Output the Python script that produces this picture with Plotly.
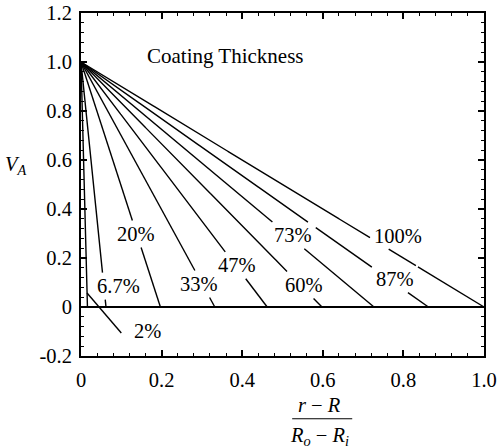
import numpy as np
import plotly.graph_objects as go

# ---- data ----
labels = ["2%", "6.7%", "20%", "33%", "47%", "60%", "73%", "87%", "100%"]
intercepts = [0.016, 0.062, 0.197, 0.332, 0.462, 0.598, 0.727, 0.862, 1.0]
label_x = [0.164, 0.093, 0.136, 0.293, 0.388, 0.553, 0.525, 0.779, 0.787]
label_y = [-0.097, 0.085, 0.298, 0.094, 0.170, 0.090, 0.292, 0.114, 0.291]
leader_x = [0.015, 0.100]
leader_y = [0.057, -0.106]
x_ticks = [0, 0.2, 0.4, 0.6, 0.8, 1.0]
x_ticktext = ["0", "0.2", "0.4", "0.6", "0.8", "1.0"]
y_ticks = [-0.2, 0, 0.2, 0.4, 0.6, 0.8, 1.0, 1.2]
y_ticktext = ["-0.2", "0", "0.2", "0.4", "0.6", "0.8", "1.0", "1.2"]

FONT = "Liberation Serif, Times New Roman, Times, DejaVu Serif, serif"
FS = 20.5
W, H = 499, 448
ML, MR, MT, MB = 81, 15, 13, 92
px_x = (W - ML - MR) / 1.0
px_y = (H - MT - MB) / 1.4

def text_width_px(s):
    w = 0
    for ch in s:
        if ch == "%":
            w += 0.833 * FS
        elif ch == ".":
            w += 0.25 * FS
        else:
            w += 0.5 * FS
    return w

boxes = []
for s, lx, ly in zip(labels, label_x, label_y):
    hw = (text_width_px(s) / 2 + 4) / px_x
    hh = (FS * 0.5 + 3) / px_y
    boxes.append((lx, ly, hw, hh))

fig = go.Figure()

t = np.linspace(0, 1, 800)
for b in intercepts:
    xs = (b * t).tolist()
    ys = (1 - t).tolist()
    outx, outy = [], []
    for x, y in zip(xs, ys):
        inside = any(abs(x - bx) < hw and abs(y - by) < hh for bx, by, hw, hh in boxes)
        if inside:
            if outx and outx[-1] is not None:
                outx.append(None); outy.append(None)
        else:
            outx.append(x); outy.append(y)
    fig.add_trace(go.Scatter(x=outx, y=outy, mode="lines",
                             line=dict(color="black", width=1.4),
                             showlegend=False, hoverinfo="skip"))

fig.add_trace(go.Scatter(x=leader_x, y=leader_y, mode="lines",
                         line=dict(color="black", width=1.4),
                         showlegend=False, hoverinfo="skip"))

def ann(**kw):
    kw.setdefault("font", dict(family=FONT, size=FS, color="black"))
    fig.add_annotation(showarrow=False, xanchor="center", yanchor="middle", **kw)

for s, lx, ly in zip(labels, label_x, label_y):
    ann(x=lx, y=ly, text=s)

ann(x=0.358, y=1.026, text="Coating Thickness",
    font=dict(family=FONT, size=21, color="black"))

# axis titles
ann(xref="paper", yref="paper", x=-0.162, y=0.555,
    text="<i>V</i><sub><i>A</i></sub>")
ann(xref="paper", yref="paper", x=0.593, y=-0.142,
    text="<i>r</i> − <i>R</i>")
ann(xref="paper", yref="paper", x=0.593, y=-0.234,
    text="<i>R</i><sub><i>o</i></sub> − <i>R</i><sub><i>i</i></sub>")
fig.add_shape(type="line", xref="paper", yref="paper", x0=0.524, x1=0.673,
              y0=-0.183, y1=-0.183, line=dict(color="black", width=1.2))

axis_common = dict(showline=True, linecolor="black", linewidth=2, mirror="ticks",
                   ticks="inside", ticklen=6, tickwidth=1.5, tickcolor="black",
                   showgrid=False, automargin=False, ticklabeloverflow="allow",
                   tickfont=dict(family=FONT, size=FS, color="black"),
                   minor=dict(dtick=0.04, ticks="inside", ticklen=3, tickwidth=1,
                              tickcolor="black", showgrid=False))

fig.update_xaxes(range=[0, 1], tickvals=x_ticks, ticktext=x_ticktext,
                 zeroline=False, ticklabelstandoff=4, **axis_common)
fig.update_yaxes(range=[-0.2, 1.2], tickvals=y_ticks, ticktext=y_ticktext,
                 zeroline=True, zerolinecolor="black", zerolinewidth=2,
                 ticklabelstandoff=3, **axis_common)

fig.update_layout(width=W, height=H, margin=dict(l=ML, r=MR, t=MT, b=MB, autoexpand=False),
                  plot_bgcolor="white", paper_bgcolor="white",
                  font=dict(family=FONT, size=FS, color="black"))

fig.write_html("out.html", config={"displayModeBar": False},
               post_script="document.body.style.margin='0';document.body.style.overflow='hidden';")
